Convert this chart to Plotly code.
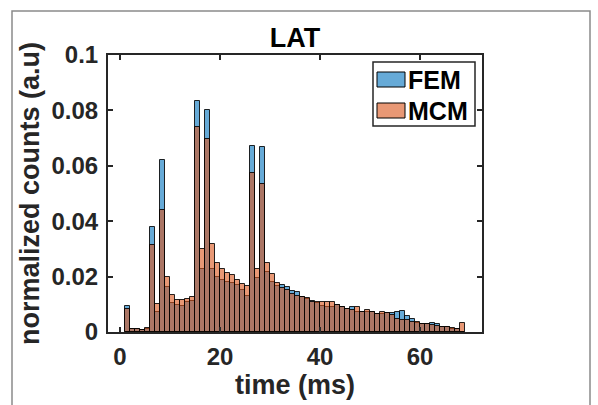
import plotly.graph_objects as go

# ---- data ----
bin_edges_start = 1      # first bin edge (ms)
bin_width = 1            # bin width (ms)

fem_counts = [
    0.0093, 0.0010, 0.0010, 0.0008, 0.0012, 0.0378, 0.0072, 0.0621, 0.0162, 0.0106,
    0.0099, 0.0093, 0.0110, 0.0111, 0.0834, 0.0227, 0.0801, 0.0227, 0.0198, 0.0186,
    0.0180, 0.0177, 0.0170, 0.0152, 0.0129, 0.0670, 0.0195, 0.0668, 0.0215, 0.0180,
    0.0167, 0.0171, 0.0162, 0.0147, 0.0144, 0.0128, 0.0119, 0.0112, 0.0106, 0.0094,
    0.0091, 0.0090, 0.0097, 0.0090, 0.0083, 0.0090, 0.0074, 0.0074, 0.0071, 0.0071,
    0.0066, 0.0066, 0.0068, 0.0068, 0.0071, 0.0077, 0.0056, 0.0047, 0.0033, 0.0029,
    0.0029, 0.0033, 0.0029, 0.0018, 0.0017, 0.0012, 0.0012, 0.0,
]
mcm_counts = [
    0.0084, 0.0012, 0.0011, 0.0009, 0.0013, 0.0315, 0.0102, 0.0440, 0.0199, 0.0134,
    0.0116, 0.0114, 0.0119, 0.0126, 0.0740, 0.0300, 0.0697, 0.0318, 0.0250, 0.0227,
    0.0214, 0.0205, 0.0188, 0.0175, 0.0166, 0.0574, 0.0227, 0.0535, 0.0250, 0.0210,
    0.0176, 0.0159, 0.0153, 0.0137, 0.0129, 0.0128, 0.0123, 0.0107, 0.0107, 0.0109,
    0.0108, 0.0107, 0.0099, 0.0092, 0.0083, 0.0079, 0.0090, 0.0074, 0.0078, 0.0071,
    0.0066, 0.0072, 0.0068, 0.0062, 0.0048, 0.0043, 0.0042, 0.0036, 0.0035, 0.0029,
    0.0029, 0.0027, 0.0023, 0.0018, 0.0018, 0.0013, 0.0011, 0.0033,
]
series_names = ["FEM", "MCM"]
x_tick_vals = [0, 20, 40, 60]
y_tick_vals = [0, 0.02, 0.04, 0.06, 0.08, 0.1]
y_tick_text = ["0", "0.02", "0.04", "0.06", "0.08", "0.1"]
chart_title = "LAT"
x_title = "time (ms)"
y_title = "normalized counts (a.u)"

# ---- styling / layout ----
W, H = 598, 405
ML, MR, MT, MB = 108, 116, 55, 73
FONT = "Liberation Sans, Arial, sans-serif"
AXC = "#262626"
fem_fill = "rgba(0,114,189,0.6)"
mcm_fill = "rgba(217,83,25,0.6)"
edge = "rgba(0,0,0,0.85)"

centers = [bin_edges_start + bin_width * (i + 0.5) for i in range(len(fem_counts))]

fig = go.Figure()
fig.add_trace(go.Bar(x=centers, y=fem_counts, width=bin_width, name=series_names[0],
                     marker=dict(color=fem_fill, line=dict(color=edge, width=1)),
                     showlegend=False))
fig.add_trace(go.Bar(x=centers, y=mcm_counts, width=bin_width, name=series_names[1],
                     marker=dict(color=mcm_fill, line=dict(color=edge, width=1)),
                     showlegend=False))

pw = W - ML - MR
ph = H - MT - MB
def px(x):
    return (x - ML) / pw
def py(y):
    return (H - MB - y) / ph

shapes = []
# figure frame (gray border)
shapes.append(dict(type="rect", xref="paper", yref="paper",
                   x0=px(12), x1=px(590), y0=py(420), y1=py(11),
                   line=dict(color="#8a8a8a", width=1.5), fillcolor="rgba(0,0,0,0)", layer="below"))
# custom legend box
shapes.append(dict(type="rect", xref="paper", yref="paper",
                   x0=px(373), x1=px(475), y0=py(126), y1=py(62),
                   line=dict(color=AXC, width=1.5), fillcolor="white"))
# swatches
shapes.append(dict(type="rect", xref="paper", yref="paper",
                   x0=px(377), x1=px(405), y0=py(87), y1=py(72),
                   line=dict(color="black", width=1), fillcolor=fem_fill))
shapes.append(dict(type="rect", xref="paper", yref="paper",
                   x0=px(377), x1=px(405), y0=py(118), y1=py(103),
                   line=dict(color="black", width=1), fillcolor=mcm_fill))

annotations = [
    dict(text="<b>%s</b>" % series_names[0], xref="paper", yref="paper", x=px(406), y=py(80),
         xanchor="left", yanchor="middle", showarrow=False,
         font=dict(family=FONT, size=25, color="black")),
    dict(text="<b>%s</b>" % series_names[1], xref="paper", yref="paper", x=px(406), y=py(111),
         xanchor="left", yanchor="middle", showarrow=False,
         font=dict(family=FONT, size=25, color="black")),
]

fig.update_layout(
    width=W, height=H,
    margin=dict(l=ML, r=MR, t=MT, b=MB, autoexpand=False),
    paper_bgcolor="white", plot_bgcolor="white",
    barmode="overlay", bargap=0,
    title=dict(text="<b>%s</b>" % chart_title, x=0.5, xref="paper", y=1 - 38 / H, yref="container",
               xanchor="center", yanchor="middle",
               font=dict(family=FONT, size=27, color="black")),
    xaxis=dict(range=[-2.4, 72.4], tickvals=x_tick_vals, ticks="inside", ticklen=5, tickwidth=1.5,
               tickcolor=AXC, showline=True, linecolor=AXC, linewidth=2, mirror="ticks",
               showgrid=False, zeroline=False, ticklabelstandoff=2, automargin=False,
               tickfont=dict(family=FONT, size=24, color="#262626", weight="bold"),
               title=dict(text="<b>%s</b>" % x_title, standoff=6,
                          font=dict(family=FONT, size=27, color="#262626"))),
    yaxis=dict(range=[0, 0.1], tickvals=y_tick_vals, ticktext=y_tick_text, ticks="inside", ticklen=5,
               tickwidth=1.5, tickcolor=AXC, showline=True, linecolor=AXC, linewidth=2, mirror="ticks",
               showgrid=False, zeroline=False, ticklabelstandoff=3, automargin=False,
               tickfont=dict(family=FONT, size=24, color="#262626", weight="bold"),
               title=dict(text="<b>%s</b>" % y_title, standoff=4,
                          font=dict(family=FONT, size=27, color="#262626"))),
    shapes=shapes,
    annotations=annotations,
    showlegend=False,
)

fig.write_html("out.html", config={"displayModeBar": False},
               post_script="document.body.style.margin='0';document.body.style.padding='0';")
